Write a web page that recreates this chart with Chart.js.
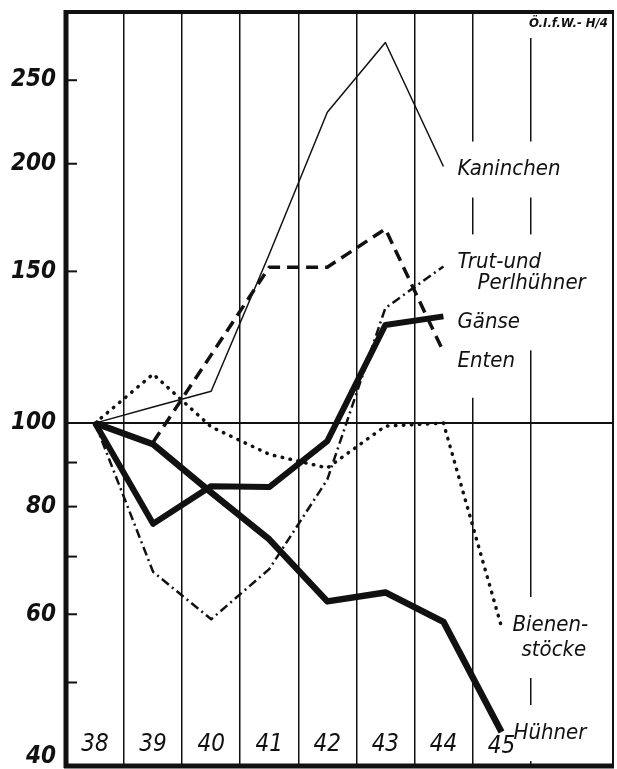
<!DOCTYPE html>
<html>
<head>
<meta charset="utf-8">
<script src="https://cdn.jsdelivr.net/npm/chart.js@4.4.1/dist/chart.umd.min.js"></script>
<style>
  html, body { margin: 0; padding: 0; background: #fff; }
  #wrap { width: 617px; height: 769px; position: relative; }
</style>
</head>
<body>
<div id="wrap"><canvas id="chart"></canvas></div>
<script>
// ---------- Daten (Index 1938 = 100) ----------
const years      = [38, 39, 40, 41, 42, 43, 44, 45];
const kaninchen  = [100, 104.4, 108.9, 157, 229.5, 276.5, 198.5, null];
const trutPerl   = [100, 67.2, 59.2, 67.7, 86, 136, 152, null];
const gaense     = [100, 76.4, 84.5, 84.3, 95.3, 130, 133, null];
const enten      = [null, 95, 120, 151.7, 151.7, 168, 121, null];
const bienen     = [100, 114, 99, 92, 88.7, 99.2, 100, 58];
const huehner    = [100, 94.5, 83.1, 73.3, 62.1, 63.6, 58.8, 43.8];

const yTicks     = [40, 50, 60, 70, 80, 90, 100, 150, 200, 250];
const yLabelled  = [40, 60, 80, 100, 150, 200, 250];
const yInnerTick = [50, 60, 70, 80, 90, 150, 200, 250];

const ink = '#111';
const labelFont = "'DejaVu Sans Condensed', 'Liberation Sans Narrow', 'Liberation Sans', sans-serif";

// Beschriftungen rechts (an letzten Punkt der Reihe gehaengt)
// minW / padB: weisser Grund, der die Gitterlinien unterbricht
const seriesLabels = [
  { lines: ['Kaninchen'],              at: [44, 198.5], dx: 14, dy: 3 },
  { lines: ['Trut-und', 'Perlhühner'], at: [44, 152],   dx: 14, dy: -4, indent: 20, gap: 21 },
  { lines: ['Gänse'],                  at: [44, 133],   dx: 14, dy: 6, minW: 86 },
  { lines: ['Enten'],                  at: [44, 121],   dx: 14, dy: 10, padB: 36 },
  { lines: ['Bienen-', 'stöcke'],      at: [45, 58],    dx: 11, dy: -2, indent: 9, gap: 25 },
  { lines: ['Hühner'],                 at: [45, 43.8],  dx: 12, dy: 1 },
];

const toXY = arr => years.map((x, i) => ({ x, y: arr[i] }));

function ds(label, arr, width, dash, cap) {
  return {
    label, data: toXY(arr),
    borderColor: ink, backgroundColor: ink,
    borderWidth: width, borderDash: dash || [],
    borderCapStyle: cap || 'butt', borderJoinStyle: 'round',
    pointRadius: 0, tension: 0, spanGaps: false, fill: false
  };
}

// ---------- Rahmen, Achsentexte, Innenstriche, Beschriftungen ----------
const decorPlugin = {
  id: 'decor',
  afterDatasetsDraw(chart) {
    const { ctx, chartArea: a, scales: { x, y } } = chart;
    ctx.save();

    // kleine Striche innen an der linken Achse
    ctx.strokeStyle = ink; ctx.lineWidth = 2;
    yInnerTick.forEach(v => {
      const py = y.getPixelForValue(v);
      ctx.beginPath(); ctx.moveTo(a.left, py); ctx.lineTo(a.left + 11, py); ctx.stroke();
    });

    // y-Beschriftung
    ctx.fillStyle = ink;
    ctx.font = `italic bold 24px ${labelFont}`;
    ctx.textAlign = 'right';
    ctx.textBaseline = 'middle';
    yLabelled.forEach(v => {
      let py = y.getPixelForValue(v);
      if (v === 40) py -= 9;
      ctx.fillText(String(v), a.left - 10, py);
    });

    // Reihenbeschriftungen mit weissem Grund (unterbricht Gitterlinien)
    ctx.font = `italic 22px ${labelFont}`;
    ctx.textAlign = 'left';
    seriesLabels.forEach(l => {
      const px = x.getPixelForValue(l.at[0]) + l.dx;
      const py = y.getPixelForValue(l.at[1]) + l.dy;
      const gap = l.gap || 22;
      let w = l.minW || 0;
      l.lines.forEach((t, i) => { w = Math.max(w, ctx.measureText(t).width + (i ? (l.indent || 0) : 0)); });
      ctx.fillStyle = '#fff';
      ctx.fillRect(px - 4, py - 28, w + 8, (l.lines.length - 1) * gap + 28 + (l.padB || 28));
    });
    ctx.fillStyle = ink;
    seriesLabels.forEach(l => {
      const px = x.getPixelForValue(l.at[0]) + l.dx;
      const py = y.getPixelForValue(l.at[1]) + l.dy;
      const gap = l.gap || 22;
      l.lines.forEach((t, i) => ctx.fillText(t, px + (i ? (l.indent || 0) : 0), py + i * gap));
    });

    // Jahreszahlen unten im Feld
    ctx.font = `italic 24px ${labelFont}`;
    ctx.textAlign = 'center';
    years.forEach(v => {
      ctx.fillText(String(v), x.getPixelForValue(v), a.bottom - (v === 45 ? 19 : 21));
    });

    // Kennung oben rechts
    ctx.font = `italic bold 13px ${labelFont}`;
    ctx.textAlign = 'right';
    ctx.textBaseline = 'top';
    const tw = ctx.measureText('Ö.I.f.W.- H/4').width;
    ctx.fillStyle = '#fff';
    ctx.fillRect(a.right - tw - 8, a.top + 2, tw + 6, 24);
    ctx.fillStyle = ink;
    ctx.fillText('Ö.I.f.W.- H/4', a.right - 5, a.top + 5);

    // Rahmen
    ctx.strokeStyle = ink;
    ctx.lineWidth = 5;
    ctx.beginPath(); ctx.moveTo(a.left, a.top - 2); ctx.lineTo(a.left, a.bottom + 2); ctx.stroke();
    ctx.beginPath(); ctx.moveTo(a.left - 2, a.bottom); ctx.lineTo(a.right + 1, a.bottom); ctx.stroke();
    ctx.lineWidth = 4;
    ctx.beginPath(); ctx.moveTo(a.left - 2, a.top); ctx.lineTo(a.right + 1, a.top); ctx.stroke();
    ctx.lineWidth = 2;
    ctx.beginPath(); ctx.moveTo(a.right, a.top); ctx.lineTo(a.right, a.bottom); ctx.stroke();
    ctx.restore();
  }
};

new Chart(document.getElementById('chart'), {
  type: 'line',
  data: {
    datasets: [
      ds('Kaninchen', kaninchen, 1.5),
      ds('Trut- und Perlhühner', trutPerl, 2.5, [9, 4, 2, 4]),
      ds('Enten', enten, 3.5, [12, 7]),
      ds('Bienenstöcke', bienen, 3.5, [0.5, 7.5], 'round'),
      ds('Gänse', gaense, 6),
      ds('Hühner', huehner, 6.5),
    ]
  },
  options: {
    responsive: true,
    maintainAspectRatio: false,
    animation: false,
    layout: { padding: { top: 12, right: 4, left: 0, bottom: 0 } },
    plugins: { legend: { display: false }, tooltip: { enabled: false } },
    scales: {
      x: {
        type: 'linear',
        min: 37.5, max: 46.92,
        afterBuildTicks: s => { s.ticks = years.map(v => ({ value: v })); },
        afterFit: s => { s.height = 3; },
        border: { display: false },
        grid: {
          offset: true,
          drawTicks: false,
          color: c => (c.index === 0 ? 'rgba(0,0,0,0)' : ink),
          lineWidth: 1.5
        },
        ticks: { display: false }
      },
      y: {
        type: 'logarithmic',
        min: 40, max: 300,
        afterBuildTicks: s => { s.ticks = yTicks.map(v => ({ value: v })); },
        afterFit: s => { s.width = 66; },
        border: { display: false },
        grid: {
          drawTicks: false,
          color: c => (c.tick && c.tick.value === 100 ? ink : 'rgba(0,0,0,0)'),
          lineWidth: 2
        },
        ticks: { display: false }
      }
    }
  },
  plugins: [decorPlugin]
});
</script>
</body>
</html>
